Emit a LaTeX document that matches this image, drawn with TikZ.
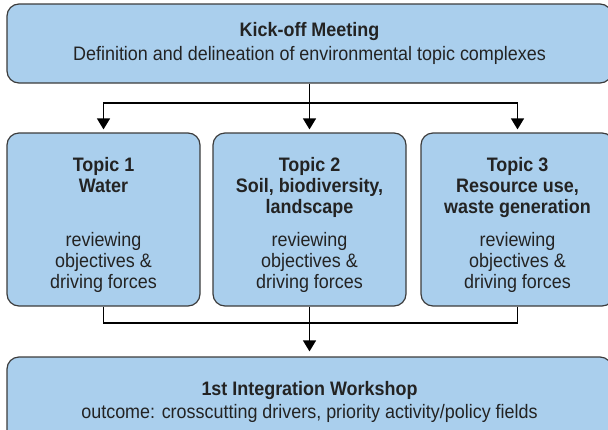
\documentclass[tikz,border=0pt]{standalone}
\usepackage{fontspec}
\setmainfont{Liberation Sans}[FakeStretch=0.92]
\usetikzlibrary{positioning,arrows.meta}
\definecolor{boxblue}{RGB}{170,207,237}
\definecolor{boxline}{RGB}{60,60,60}
\definecolor{txt}{RGB}{35,35,35}

\begin{document}
\begin{tikzpicture}[x=1pt,y=-1pt,
stage/.style={draw=boxline, fill=boxblue, line width=1.2pt, rounded corners=12pt,
align=center, text=txt, font=\fontsize{19.5}{21}\selectfont, inner sep=0pt},
topic/.style={stage, minimum width=193pt, minimum height=173pt},
wide/.style={stage, minimum width=605pt},
head/.style={align=center, text=txt, font=\fontsize{19.5}{21}\selectfont\bfseries, inner sep=0pt},
body/.style={head, font=\fontsize{19.5}{21}\selectfont},
line/.style={line width=1.3pt},
link/.style={line, -{Triangle[width=13pt,length=11pt]}}
]
\useasboundingbox (0,0) rectangle (608,429);

\node[wide, minimum height=79pt] (kickoff) at (309.5,43.5)
  {\textbf{Kick-off Meeting}\\[3pt]Definition and delineation of environmental topic complexes};

\node[topic] (topic1) at (103.5,219.5) {};
\node[topic] (topic2) at (309.5,219.5) {};
\node[topic] (topic3) at (517.5,219.5) {};

\node[head, below=25pt of topic1.north] (head1) {Topic 1\\Water};
\node[head, below=25pt of topic2.north] (head2) {Topic 2\\Soil, biodiversity,\\landscape};
\node[head, below=25pt of topic3.north] (head3) {Topic 3\\Resource use,\\waste generation};

\node[body, above=14pt of topic1.south] (body1) {reviewing\\objectives \&\\driving forces};
\node[body, above=14pt of topic2.south] (body2) {reviewing\\objectives \&\\driving forces};
\node[body, above=14pt of topic3.south] (body3) {reviewing\\objectives \&\\driving forces};

\node[wide, minimum height=89pt] (workshop) at (309.5,401.5)
  {\textbf{1st Integration Workshop}\\[2pt]outcome: crosscutting drivers, priority activity/policy fields};

\coordinate (split) at (309.5,103);
\coordinate (merge) at (309.5,323);

\draw[line] (kickoff.south) -- (split);
\draw[link, shorten >=3pt] (split) -- (topic2.north);
\draw[link, shorten >=3pt] (split) -| (topic1.north);
\draw[link, shorten >=3pt] (split) -| (topic3.north);
\draw[line] (topic1.south) |- (merge);
\draw[line] (topic3.south) |- (merge);
\draw[link, shorten >=5pt] (topic2.south) -- (workshop.north);
\end{tikzpicture}
\end{document}
